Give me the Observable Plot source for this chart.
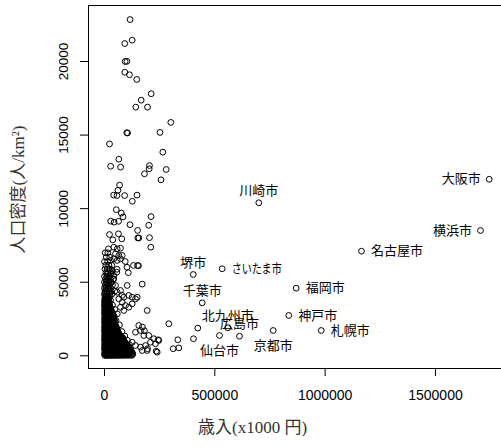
<!DOCTYPE html>
<html>
<head>
<meta charset="utf-8">
<script src="https://cdn.jsdelivr.net/npm/d3@7"></script>
<script src="https://cdn.jsdelivr.net/npm/@observablehq/plot@0.6"></script>
<style>
  html, body { margin: 0; padding: 0; background: #fff; }
  svg { display: block; }
</style>
</head>
<body>
<div id="chart"></div>
<script>
// Axis ticks and titles
const xTicks = [0, 500000, 1000000, 1500000];
const yTicks = [0, 5000, 10000, 15000, 20000];
const xTitle = "歳入(x1000 円)";
const yTitle = "人口密度(人/km²)";

// Designated cities: revenue (x1000 yen) and population density (people/km²)
const cityNames   = ["大阪市", "横浜市", "名古屋市", "福岡市", "神戸市", "札幌市", "京都市",
                     "川崎市", "さいたま市", "堺市", "千葉市", "北九州市", "広島市", "仙台市"];
const cityIncome  = [1743500, 1704000, 1164700, 868800, 835200, 982100, 764500,
                     699300, 533400, 402000, 442800, 558800, 611800, 521200];
const cityDensity = [12000, 8515, 7110, 4595, 2740, 1720, 1720,
                     10400, 5915, 5525, 3600, 1905, 1330, 1380];

// Other municipalities outside the dense core: [revenue, density]
const towns = [
  [116000, 22850], [125500, 21450], [92000, 21220], [93500, 20000], [101500, 20010],
  [92000, 19270], [113300, 19100], [146400, 18780], [211600, 17810], [166300, 17370],
  [141800, 16900], [194900, 16900], [300500, 15860], [101000, 15160], [104500, 15140],
  [251500, 15180], [22700, 14400], [264200, 13840], [64800, 13360], [27800, 12880],
  [73000, 12820], [203900, 12930], [202600, 12710], [181300, 12370], [279600, 12660],
  [256000, 11960], [68500, 11600], [61000, 11250],
  [41500, 10920], [56500, 10890], [91300, 10890], [147300, 10920], [126000, 10500],
  [53500, 9930], [76400, 9700], [84000, 9440], [211000, 9460], [28000, 9150], [43500, 9080], [63500, 9140],
  [115500, 8910], [200300, 8870], [150000, 8520],
  [22700, 8240], [63400, 8290], [37600, 7880], [78400, 7950],
  [150900, 8010], [155800, 8010], [203900, 8030], [209800, 7380],
  [18100, 7270], [42100, 7380], [57500, 7270], [72500, 7310],
  [49900, 6930], [64800, 6820], [80200, 6820],
  [27200, 6480], [42100, 6590], [57500, 6480], [72500, 6590], [94000, 6410],
  [102000, 6020], [108000, 5650], [131400, 6140], [150000, 6140], [154000, 6120],
  [19500, 5910], [34900, 5800], [27200, 5570], [12200, 5570], [42100, 5460], [57000, 5880], [55500, 5680],
  [12200, 5120], [27200, 5000], [42100, 5230], [49900, 4780], [102900, 4780], [170800, 4870],
  [19500, 4550], [57500, 4320], [72500, 4440], [80200, 4100], [87500, 3980],
  [110100, 4100], [125500, 3980], [140500, 3870], [148200, 3980],
  [95200, 3420], [110100, 3300], [125500, 3530], [193500, 3080],
  [64800, 3870], [80200, 3640], [72500, 3300], [87500, 3080],
  [155400, 2060], [163100, 1720], [140500, 1600], [178100, 1380], [200800, 1380],
  [172000, 1950], [181000, 1700],
  [223400, 1160], [246000, 1040], [231100, 820], [208500, 920], [185800, 700],
  [163100, 590], [193500, 360], [238800, 250], [170800, 360], [140500, 700], [125500, 920],
  [291400, 2180], [422800, 1880], [403400, 1160], [332200, 1090], [311400, 480], [336700, 540],
  [234300, 310], [243400, 1090], [194900, 480]
];

// Small towns and villages packed near the origin, listed by density band: [density, revenues]
const denseRows = [
  [7000, [3000, 15000]],
  [6700, [8000, 24000]],
  [6400, [0, 14000]],
  [6150, [6000, 20000, 33000]],
  [5900, [2000, 12000, 26000]],
  [5650, [7000, 17000, 30000]],
  [5400, [0, 10000, 22000]],
  [5200, [4000, 14000, 27000, 39000]],
  [5000, [0, 8000, 18000, 31000]],
  [4800, [3000, 12000, 22000, 36000]],
  [4600, [0, 7000, 16000, 27000]],
  [4400, [2000, 10000, 19000, 30000, 47000]],
  [4200, [0, 5000, 13000, 22000, 34000]],
  [4050, [2000, 8000, 16000, 26000]],
  [3900, [2000, 7000, 13000, 19000]],
  [3825, [4000, 10000, 16000]],
  [3750, [0, 5000, 10000, 16000, 28000]],
  [3675, [3000, 9000, 15000, 22000]],
  [3600, [1000, 7000, 13000, 20000]],
  [3525, [5000, 12000, 18000]],
  [3450, [0, 4000, 10000, 16000, 23000, 36000]],
  [3375, [1000, 6000, 12000, 18000, 24000]],
  [3300, [2000, 8000, 13000, 19000, 26000]],
  [3225, [4000, 10000, 15000, 22000, 28000]],
  [3150, [0, 5000, 11000, 17000, 24000, 30000, 47000]],
  [3075, [3000, 9000, 15000, 22000, 29000]],
  [3000, [1000, 7000, 13000, 20000, 27000, 33000]],
  [2925, [2000, 7000, 13000, 19000, 26000, 34000]],
  [2850, [0, 4000, 10000, 16000, 23000, 30000, 37000, 58000]],
  [2775, [5000, 11000, 17000, 24000, 32000, 39000]],
  [2700, [2000, 8000, 14000, 20000, 27000, 35000, 44000]],
  [2625, [3000, 8000, 14000, 21000, 28000, 35000, 41000]],
  [2550, [0, 5000, 11000, 17000, 24000, 31000, 39000]],
  [2475, [4000, 10000, 16000, 22000, 29000, 37000, 44000]],
  [2400, [1000, 7000, 13000, 19000, 26000, 33000, 41000, 52000]],
  [2325, [2000, 7000, 13000, 19000, 25000, 32000, 40000, 47000]],
  [2250, [0, 4000, 10000, 16000, 22000, 29000, 36000, 44000]],
  [2175, [5000, 11000, 17000, 24000, 31000, 38000, 45000]],
  [2100, [2000, 8000, 14000, 20000, 27000, 34000, 42000, 49000, 68000]],
  [2025, [3000, 8000, 14000, 21000, 28000, 35000, 43000, 51000]],
  [1950, [0, 5000, 11000, 17000, 24000, 31000, 38000, 46000, 54000]],
  [1875, [4000, 10000, 16000, 22000, 29000, 36000, 44000, 52000]],
  [1800, [1000, 7000, 13000, 19000, 26000, 33000, 40000, 48000, 57000]],
  [1725, [2000, 7000, 13000, 19000, 25000, 32000, 40000, 48000, 56000]],
  [1650, [0, 4000, 10000, 16000, 22000, 29000, 36000, 44000, 52000, 61000, 79000]],
  [1575, [5000, 11000, 17000, 24000, 31000, 38000, 46000, 54000, 62000]],
  [1500, [2000, 8000, 14000, 20000, 27000, 34000, 41000, 49000, 57000, 66000]],
  [1425, [3000, 8000, 14000, 21000, 28000, 35000, 43000, 51000, 59000, 68000]],
  [1350, [0, 5000, 11000, 17000, 24000, 31000, 38000, 46000, 54000, 62000, 71000, 92000]],
  [1275, [4000, 10000, 16000, 22000, 29000, 36000, 44000, 52000, 60000, 69000, 79000]],
  [1200, [1000, 7000, 13000, 19000, 26000, 33000, 40000, 48000, 56000, 65000, 75000, 84000]],
  [1125, [2000, 7000, 13000, 19000, 25000, 32000, 39000, 47000, 55000, 63000, 72000, 82000]],
  [1050, [0, 4000, 10000, 16000, 22000, 29000, 36000, 43000, 51000, 59000, 68000, 78000, 88000, 104000]],
  [975,  [5000, 11000, 17000, 24000, 31000, 38000, 45000, 53000, 61000, 69000, 79000, 89000]],
  [900,  [2000, 8000, 14000, 20000, 27000, 34000, 41000, 49000, 57000, 65000, 74000, 84000, 94000]],
  [825,  [3000, 8000, 14000, 21000, 28000, 35000, 42000, 50000, 58000, 67000, 76000, 86000, 97000]],
  [750,  [0, 5000, 11000, 17000, 24000, 31000, 38000, 45000, 53000, 61000, 70000, 79000, 89000, 99000, 113000]],
  [675,  [4000, 10000, 16000, 22000, 29000, 36000, 43000, 51000, 59000, 68000, 77000, 87000, 97000, 107000]],
  [600,  [1000, 7000, 13000, 19000, 26000, 33000, 40000, 47000, 55000, 63000, 72000, 81000, 91000, 101000, 110000]],
  [525,  [2000, 7000, 13000, 19000, 25000, 32000, 39000, 46000, 54000, 62000, 71000, 80000, 90000, 100000, 111000]],
  [450,  [0, 4000, 10000, 16000, 22000, 29000, 36000, 43000, 51000, 59000, 67000, 76000, 85000, 95000, 105000, 116000]],
  [375,  [5000, 11000, 17000, 24000, 31000, 38000, 45000, 53000, 61000, 70000, 79000, 88000, 98000, 108000, 119000]],
  [300,  [2000, 8000, 14000, 20000, 27000, 34000, 41000, 48000, 56000, 64000, 73000, 82000, 92000, 102000, 112000, 122000]],
  [225,  [3000, 8000, 14000, 21000, 28000, 35000, 42000, 50000, 58000, 66000, 75000, 85000, 95000, 105000, 115000, 125000]],
  [150,  [0, 5000, 11000, 17000, 24000, 31000, 38000, 45000, 53000, 61000, 69000, 78000, 88000, 98000, 108000, 119000, 128000]],
  [90,   [4000, 10000, 16000, 22000, 29000, 36000, 43000, 51000, 59000, 67000, 76000, 85000, 95000, 105000, 116000, 127000]],
  [30,   [1000, 7000, 13000, 19000, 26000, 33000, 40000, 47000, 55000, 63000, 71000, 80000, 90000, 100000, 111000, 124000]]
];

// Assemble one record per municipality
const cities = cityNames.map((name, i) => ({name, income: cityIncome[i], density: cityDensity[i]}));
const points = [
  ...denseRows.flatMap(([density, incomes]) => incomes.map(income => ({income, density}))),
  ...towns.map(([income, density]) => ({income, density})),
  ...cities
];

// Which side of its point each city name sits on
const labelSide = {
  "大阪市": "left", "横浜市": "left",
  "名古屋市": "right", "福岡市": "right", "神戸市": "right", "札幌市": "right", "さいたま市": "right",
  "川崎市": "above", "堺市": "above", "千葉市": "above", "北九州市": "above", "広島市": "above",
  "京都市": "below", "仙台市": "below"
};
const sideOffsets = {
  left:  {textAnchor: "end",    dx: -8.5, dy: 0},
  right: {textAnchor: "start",  dx: 9.5,  dy: 0},
  above: {textAnchor: "middle", dx: 0,    dy: -12},
  below: {textAnchor: "middle", dx: 0,    dy: 15}
};
const cjk = "'Noto Sans CJK JP', 'Noto Sans CJK SC', sans-serif";
const serif = "'Liberation Serif', 'Noto Sans CJK JP', serif";

const labelMarks = Object.entries(sideOffsets).map(([side, o]) =>
  Plot.text(cities.filter(d => labelSide[d.name] === side), {
    x: "income", y: "density", text: "name",
    ...o, lineAnchor: "middle", fontSize: 13, fontFamily: cjk, fill: "black"
  })
);

const chart = Plot.plot({
  width: 501,
  height: 447,
  marginLeft: 88,
  marginTop: 5,
  marginBottom: 79,
  marginRight: -3,
  style: {fontFamily: "'Liberation Sans', Arial, sans-serif", fontSize: "14px", background: "#fff", color: "black"},
  x: {domain: [-72500, 1812800]},
  y: {domain: [-863, 23806]},
  marks: [
    Plot.frame({stroke: "black", strokeWidth: 1}),
    Plot.axisX({ticks: xTicks, tickSize: 8, tickPadding: 14, tickFormat: d => String(d), label: null, fontSize: 14}),
    Plot.axisY({ticks: yTicks, tickSize: 8, fill: "none", label: null}),
    Plot.text(yTicks, {
      y: d => d, text: d => String(d), frameAnchor: "left", dx: -24.5,
      rotate: -90, textAnchor: "middle", lineAnchor: "middle", fontSize: 13.5, fill: "black"
    }),
    Plot.dot(points, {x: "income", y: "density", r: 2.9, stroke: "black", strokeWidth: 1, fill: "none"}),
    ...labelMarks,
    Plot.text([xTitle], {
      text: d => d, frameAnchor: "bottom-left", dx: 164, dy: 59,
      textAnchor: "middle", lineAnchor: "middle", fontSize: 17, fontFamily: serif, fill: "#333"
    }),
    Plot.text([yTitle], {
      text: d => d, frameAnchor: "left", dx: -70, dy: 2.5, rotate: -90,
      textAnchor: "middle", lineAnchor: "middle", fontSize: 17, fontFamily: serif, fill: "#333"
    })
  ]
});

// The five-character city name is set a little tighter so it clears its neighbours
d3.select(chart).selectAll("text")
  .filter(function () { return this.textContent === "さいたま市"; })
  .attr("textLength", 50)
  .attr("lengthAdjust", "spacingAndGlyphs");

document.getElementById("chart").appendChild(chart);
</script>
</body>
</html>
